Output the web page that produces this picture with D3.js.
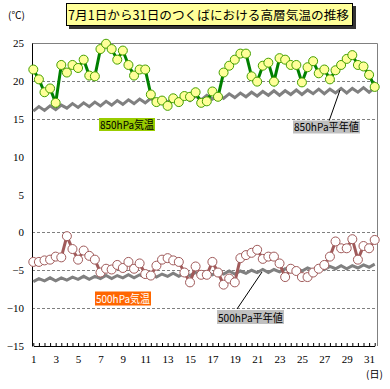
<!DOCTYPE html>
<html>
<head>
<meta charset="utf-8">
<script src="https://cdn.jsdelivr.net/npm/d3@7"></script>
<style>
  body { margin: 0; background: #fff; }
  svg { display: block; }
</style>
</head>
<body>
<div id="chart"></div>
<script>
// two soundings a day (09 / 21 JST), 1-31 July
const dayLabels = [1, 3, 5, 7, 9, 11, 13, 15, 17, 19, 21, 23, 25, 27, 29, 31];
const yTicks = [25, 20, 15, 10, 5, 0, -5, -10, -15];
const gridValues = [20, 15, 0, -5, -10];

const t850 = [21.5, 20.2, 18.5, 19.0, 17.1, 22.1, 21.1, 22.1, 21.7, 22.8,
  20.7, 20.6, 24.2, 24.9, 24.2, 22.8, 24.0, 22.1, 20.7, 21.5,
  21.5, 18.2, 17.2, 17.4, 16.7, 17.7, 17.2, 18.0, 17.9, 18.5,
  17.1, 17.3, 18.6, 17.9, 21.1, 22.0, 22.8, 23.6, 23.6, 20.6,
  19.9, 22.0, 22.4, 19.9, 23.0, 22.8, 22.1, 22.1, 19.8, 21.8,
  22.6, 21.0, 21.5, 20.2, 21.4, 22.1, 22.9, 23.4, 22.1, 21.9,
  20.8, 19.2];

const t850normal = [16.0, 16.6, 16.1, 16.7, 16.2, 16.8, 16.4, 17.0, 16.5, 17.1,
  16.6, 17.2, 16.7, 17.3, 16.8, 17.4, 16.9, 17.5, 17.0, 17.6,
  17.1, 17.7, 17.1, 17.7, 17.2, 17.8, 17.3, 17.9, 17.4, 18.0,
  17.5, 18.1, 17.6, 18.2, 17.7, 18.3, 17.8, 18.4, 17.9, 18.5,
  18.0, 18.6, 18.1, 18.7, 18.1, 18.7, 18.2, 18.8, 18.2, 18.8,
  18.3, 18.9, 18.3, 18.9, 18.4, 19.0, 18.4, 19.0, 18.5, 19.1,
  18.5, 19.1];

const t500 = [-3.9, -3.9, -3.7, -3.6, -3.2, -3.3, -0.5, -2.2, -3.6, -2.4,
  -3.1, -3.6, -5.3, -4.8, -4.9, -4.3, -4.7, -3.9, -4.8, -4.1,
  -5.5, -5.7, -4.4, -3.6, -3.4, -3.7, -3.9, -5.3, -6.6, -4.5,
  -5.6, -5.6, -3.9, -5.3, -6.9, -6.1, -6.6, -3.4, -3.0, -2.7,
  -2.3, -3.5, -3.2, -3.2, -4.1, -5.9, -4.8, -5.1, -5.9, -5.9,
  -5.3, -4.8, -4.3, -3.2, -1.2, -2.1, -2.1, -0.9, -3.6, -1.8,
  -2.1, -1.0];

const t500normal = [-6.5, -6.1, -6.4, -6.0, -6.4, -6.0, -6.3, -5.9, -6.2, -5.8,
  -6.2, -5.8, -6.1, -5.7, -6.1, -5.7, -6.0, -5.6, -6.0, -5.6,
  -5.9, -5.5, -5.9, -5.5, -5.8, -5.4, -5.8, -5.4, -5.7, -5.3,
  -5.7, -5.3, -5.6, -5.2, -5.5, -5.1, -5.5, -5.1, -5.4, -5.0,
  -5.3, -4.9, -5.3, -4.9, -5.2, -4.8, -5.2, -4.8, -5.1, -4.7,
  -5.0, -4.6, -4.9, -4.5, -4.8, -4.4, -4.8, -4.4, -4.7, -4.3,
  -4.6, -4.2];

const svg = d3.select('#chart')
  .append('svg')
  .attr('width', 390)
  .attr('height', 389);

const plotLeft = 32, plotRight = 377.5, plotTop = 43, plotBottom = 346;

const x = d3.scaleLinear().domain([0, t850.length - 1]).range([33.3, 374.7]);
const y = d3.scaleLinear().domain([-15, 25]).range([plotBottom, plotTop]);

const serif = '"Liberation Serif", "Times New Roman", serif';
const jp = '"Noto Sans CJK JP", sans-serif';

// grid
svg.append('g')
  .selectAll('line')
  .data(gridValues)
  .enter()
  .append('line')
  .attr('x1', plotLeft).attr('x2', plotRight)
  .attr('y1', d => Math.round(y(d)) + 0.5)
  .attr('y2', d => Math.round(y(d)) + 0.5)
  .attr('stroke', '#808080')
  .attr('stroke-dasharray', '3,2');

// frame
svg.append('path')
  .attr('d', `M${plotLeft},${plotTop + 0.5}H${plotRight}V${plotBottom}`)
  .attr('fill', 'none')
  .attr('stroke', '#808080');

const yAxis = svg.append('g')
  .attr('transform', `translate(${plotLeft},0)`)
  .call(d3.axisLeft(y).tickValues(yTicks).tickSize(0).tickPadding(8));
yAxis.select('.domain').attr('stroke', '#000');
yAxis.selectAll('text')
  .attr('font-family', serif)
  .attr('font-size', 11)
  .attr('fill', '#000');

const xAxis = svg.append('g')
  .attr('transform', `translate(0,${plotBottom})`)
  .call(d3.axisTop(x).tickValues(d3.range(t850.length))
    .tickSize(3).tickFormat('').tickSizeOuter(0));
xAxis.select('.domain').attr('stroke', '#000');
xAxis.selectAll('.tick line').attr('stroke', '#000');

svg.append('g')
  .selectAll('text')
  .data(dayLabels)
  .enter()
  .append('text')
  .attr('x', d => x((d - 1) * 2) + 0.5)
  .attr('y', 363)
  .attr('text-anchor', 'middle')
  .attr('font-family', serif)
  .attr('font-size', 11)
  .text(d => d);

svg.append('text')
  .attr('x', 366).attr('y', 378)
  .attr('font-family', jp).attr('font-size', 10)
  .text('(日)');

svg.append('text')
  .attr('x', 8).attr('y', 19)
  .attr('font-family', jp).attr('font-size', 10)
  .text('(℃)');

// title
svg.append('rect')
  .attr('x', 69).attr('y', 6).attr('width', 287).attr('height', 23)
  .attr('fill', '#333');
svg.append('rect')
  .attr('x', 66.5).attr('y', 3.5).attr('width', 286).attr('height', 22)
  .attr('fill', '#ffff99').attr('stroke', '#000');
svg.append('text')
  .attr('x', 68).attr('y', 19.5)
  .attr('font-family', jp).attr('font-size', 12.5)
  .attr('textLength', 281)
  .attr('lengthAdjust', 'spacingAndGlyphs')
  .text('7月1日から31日のつくばにおける高層気温の推移');

const line = d3.line()
  .x((d, i) => x(i))
  .y(d => y(d));

// normals
[t850normal, t500normal].forEach(s => {
  svg.append('path')
    .datum(s)
    .attr('d', line)
    .attr('fill', 'none')
    .attr('stroke', '#808080')
    .attr('stroke-width', 3);
});

const series = [
  { values: t850, stroke: '#008000', dot: '#44a000', fill: '#ffff99' },
  { values: t500, stroke: '#a05a5a', dot: '#a05a5a', fill: '#ffffff' }
];

series.forEach(s => {
  svg.append('path')
    .datum(s.values)
    .attr('d', line)
    .attr('fill', 'none')
    .attr('stroke', s.stroke)
    .attr('stroke-width', 3);

  svg.append('g')
    .selectAll('circle')
    .data(s.values)
    .enter()
    .append('circle')
    .attr('cx', (d, i) => x(i))
    .attr('cy', d => y(d))
    .attr('r', 4.5)
    .attr('fill', s.fill)
    .attr('stroke', s.dot)
    .attr('stroke-width', 1);
});

// leader lines
svg.append('line')
  .attr('x1', 328).attr('y1', 124).attr('x2', 340).attr('y2', 90)
  .attr('stroke', '#000');
svg.append('line')
  .attr('x1', 237).attr('y1', 309).attr('x2', 262).attr('y2', 272)
  .attr('stroke', '#000');

// labels
const labels = [
  { text: '850hPa気温', x: 99, y: 118, w: 56, h: 13, bg: '#99cc00', color: '#000' },
  { text: '850hPa平年値', x: 293, y: 120.5, w: 67, h: 13, bg: '#c0c0c0', color: '#000' },
  { text: '500hPa気温', x: 95, y: 291.5, w: 56, h: 14, bg: '#ff6600', color: '#fff' },
  { text: '500hPa平年値', x: 217, y: 310, w: 67, h: 14, bg: '#c0c0c0', color: '#000' }
];

labels.forEach(l => {
  svg.append('rect')
    .attr('x', l.x).attr('y', l.y).attr('width', l.w).attr('height', l.h)
    .attr('fill', l.bg);
  svg.append('text')
    .attr('x', l.x + 1).attr('y', l.y + l.h - 2.5)
    .attr('font-family', jp).attr('font-size', 11)
    .attr('textLength', l.w - 2)
    .attr('lengthAdjust', 'spacingAndGlyphs')
    .attr('fill', l.color)
    .text(l.text);
});
</script>
</body>
</html>
